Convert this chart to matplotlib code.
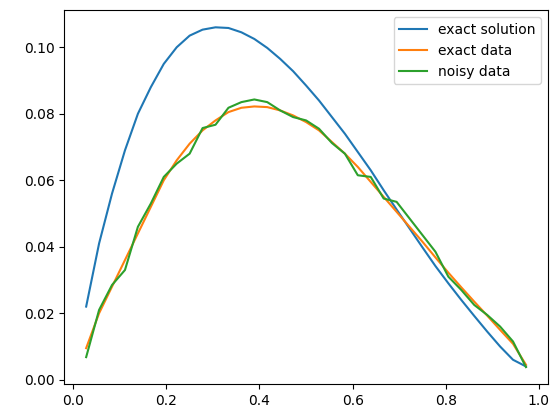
import numpy as np
import matplotlib.pyplot as plt

x = np.arange(1, 36) / 36.0

exact_solution = [0.022, 0.041, 0.056, 0.069, 0.080, 0.088, 0.095, 0.100, 0.1035, 0.1053,
                  0.106, 0.1058, 0.1045, 0.1025, 0.0998, 0.0965, 0.0928, 0.0885, 0.0840, 0.0790,
                  0.0740, 0.0685, 0.0630, 0.0570, 0.0512, 0.0455, 0.0398, 0.0342, 0.0290, 0.0240,
                  0.0192, 0.0145, 0.0100, 0.0060, 0.0040]
exact_data = [0.0095, 0.020, 0.028, 0.036, 0.044, 0.052, 0.060, 0.066, 0.071, 0.075,
              0.078, 0.0805, 0.0818, 0.0822, 0.0820, 0.0810, 0.0795, 0.0775, 0.0750, 0.0715,
              0.0680, 0.0640, 0.0595, 0.0550, 0.0505, 0.0460, 0.0415, 0.0368, 0.0322, 0.0278,
              0.0235, 0.0193, 0.0150, 0.0108, 0.0045]
noisy_data = [0.0068, 0.021, 0.0285, 0.033, 0.046, 0.053, 0.061, 0.065, 0.068, 0.0757,
              0.0767, 0.0818, 0.0835, 0.0843, 0.0835, 0.081, 0.079, 0.078, 0.0755, 0.0712,
              0.068, 0.0615, 0.061, 0.0545, 0.0535, 0.0485, 0.0435, 0.0385, 0.031, 0.027,
              0.0225, 0.0195, 0.016, 0.0115, 0.0038]

fig = plt.figure(figsize=(5.58, 4.13), dpi=100)
plt.plot(x, exact_solution, label='exact solution')
plt.plot(x, exact_data, label='exact data')
plt.plot(x, noisy_data, label='noisy data')
plt.legend()
plt.subplots_adjust(left=0.115, right=0.982, top=0.975, bottom=0.07)
plt.savefig('out.png')
